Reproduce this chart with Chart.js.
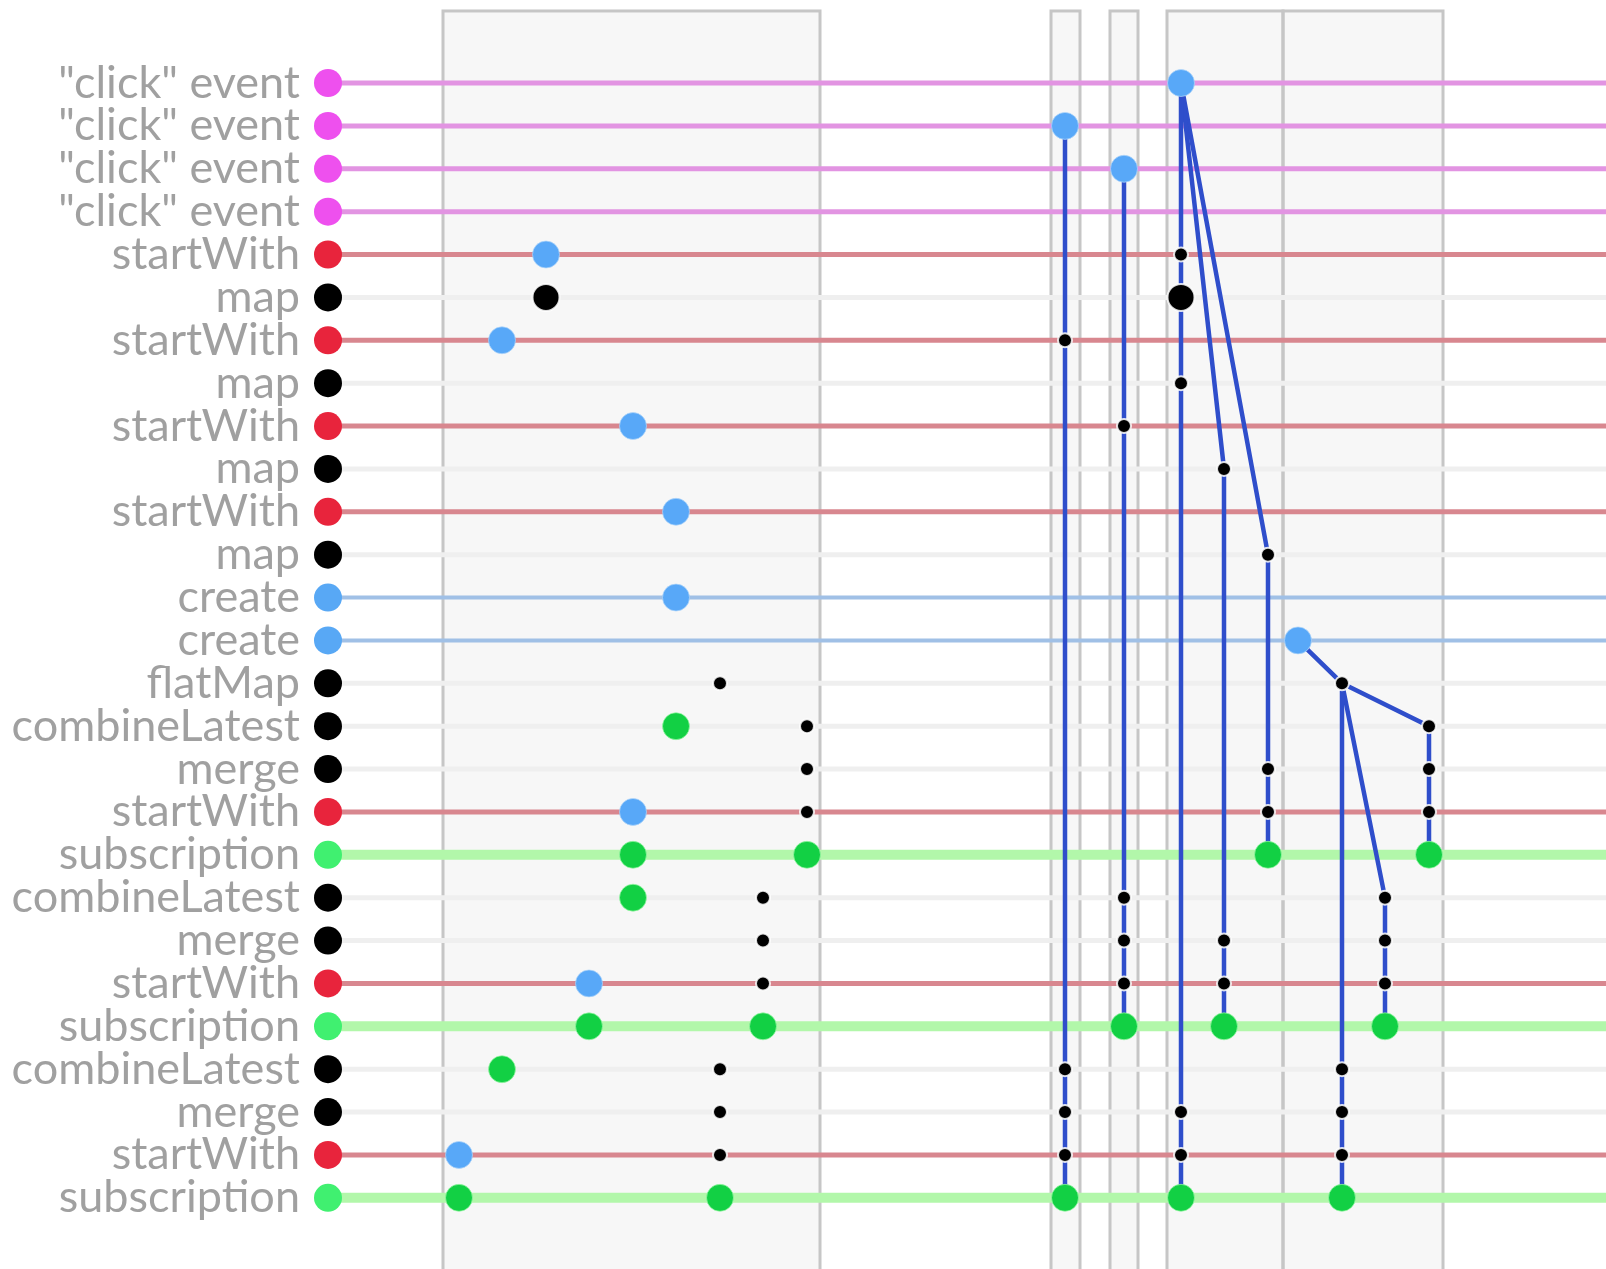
<!DOCTYPE html>
<html>
<head>
<meta charset="utf-8">
<script src="https://cdn.jsdelivr.net/npm/chart.js@4.4.1/dist/chart.umd.min.js"></script>
<style>
html,body{margin:0;padding:0;background:#ffffff;}
canvas{display:block;}
</style>
</head>
<body>
<canvas id="c" width="1606" height="1269"></canvas>
<script>
// ---- lanes ----
const rowLabels = ['"click" event','"click" event','"click" event','"click" event',
  'startWith','map','startWith','map','startWith','map','startWith','map',
  'create','create','flatMap','combineLatest','merge','startWith','subscription',
  'combineLatest','merge','startWith','subscription','combineLatest','merge','startWith','subscription'];
const rowKinds = ['click','click','click','click',
  'startWith','op','startWith','op','startWith','op','startWith','op',
  'create','create','op','op','op','startWith','subscription',
  'op','op','startWith','subscription','op','op','startWith','subscription'];
const laneStart = 328;
const laneEnd = 1606;

// ---- time windows ----
const windowStarts = [443, 1051, 1110, 1167, 1283];
const windowEnds   = [820, 1080, 1138, 1283, 1443];

// ---- events [time, row] ----
const blueEvents = [[546,4],[502,6],[633,8],[676,10],[676,12],[633,17],[589,21],[459,25],
  [1181,0],[1065,1],[1124,2],[1298,13]];
const greenEvents = [[676,15],[633,18],[807,18],[633,19],[589,22],[763,22],[502,23],[459,26],[720,26],
  [1268,18],[1429,18],[1124,22],[1224,22],[1385,22],[1065,26],[1181,26],[1342,26]];
const bigBlackEvents = [[546,5],[1181,5]];
const smallBlackEvents = [[720,14],[807,15],[807,16],[807,17],[763,19],[763,20],[763,21],[720,23],[720,24],[720,25],
  [1181,4],[1065,6],[1181,7],[1124,8],[1224,9],[1268,11],[1342,14],[1429,15],[1268,16],[1429,16],[1268,17],[1429,17],
  [1124,19],[1385,19],[1124,20],[1224,20],[1385,20],[1124,21],[1224,21],[1385,21],
  [1065,23],[1342,23],[1065,24],[1181,24],[1342,24],[1065,25],[1181,25],[1342,25]];

// ---- causal connectors (paths of [time,row]) ----
const connectors = [
  [[1065,1],[1065,26]],
  [[1124,2],[1124,22]],
  [[1181,0],[1181,26]],
  [[1181,0],[1224,9],[1224,22]],
  [[1181,0],[1268,11],[1268,18]],
  [[1298,13],[1342,14],[1342,26]],
  [[1342,14],[1429,15],[1429,18]],
  [[1342,14],[1385,19],[1385,22]]
];

// ---- styles ----
const kindStyle = {
  click:        {dot:'#ee50ee', line:'#e294e2', width:5},
  startWith:    {dot:'#e8243c', line:'#d8878f', width:5},
  op:           {dot:'#000000', line:'#efefef', width:5},
  create:       {dot:'#58a8f5', line:'#a0c0e6', width:4},
  subscription: {dot:'#40f070', line:'#b2f7aa', width:10}
};

const toPts = arr => arr.map(([x,y]) => ({x, y}));

const datasets = [];
datasets.push({type:'scatter', data: toPts(smallBlackEvents), pointRadius:7, pointHoverRadius:7,
  backgroundColor:'#000', borderColor:'rgba(255,255,255,0.85)', borderWidth:2, order:0, clip:false});
datasets.push({type:'scatter', data: toPts(bigBlackEvents), pointRadius:13.5, pointHoverRadius:13.5,
  backgroundColor:'#000', borderColor:'rgba(255,255,255,0.85)', borderWidth:2, order:0, clip:false});
datasets.push({type:'scatter', data: toPts(greenEvents), pointRadius:13.5, pointHoverRadius:13.5,
  backgroundColor:'#12d044', borderColor:'rgba(160,250,170,0.7)', borderWidth:1, order:0, clip:false});
datasets.push({type:'scatter', data: toPts(blueEvents), pointRadius:13.5, pointHoverRadius:13.5,
  backgroundColor:'#58a8f8', borderColor:'rgba(180,215,250,0.7)', borderWidth:1, order:0, clip:false});
datasets.push({type:'scatter', data: rowLabels.map((_, i) => ({x: laneStart, y: i})),
  pointRadius:14, pointHoverRadius:14, borderWidth:0,
  backgroundColor: rowKinds.map(k => kindStyle[k].dot), order:0, clip:false});
connectors.forEach(path => {
  datasets.push({type:'line', data: toPts(path), borderColor:'#2f4ecb', borderWidth:4.5,
    pointRadius:0, fill:false, tension:0, order:1, clip:false});
});
rowLabels.forEach((_, i) => {
  const st = kindStyle[rowKinds[i]];
  datasets.push({type:'line', data:[{x:laneStart, y:i},{x:laneEnd, y:i}], borderColor: st.line,
    borderWidth: st.width, pointRadius:0, fill:false, order:2, clip:false});
});

const windowsPlugin = {
  id:'windows',
  beforeDatasetsDraw(chart) {
    const {ctx, scales:{x, y}} = chart;
    const top = y.getPixelForValue(-1.68);
    const bottom = chart.height + 10;
    ctx.save();
    windowStarts.forEach((s, i) => {
      const l = x.getPixelForValue(s), r = x.getPixelForValue(windowEnds[i]);
      ctx.fillStyle = '#f7f7f7';
      ctx.fillRect(l, top, r - l, bottom - top);
    });
    ctx.strokeStyle = '#c6c6c6';
    ctx.lineWidth = 3;
    windowStarts.forEach((s, i) => {
      const l = x.getPixelForValue(s), r = x.getPixelForValue(windowEnds[i]);
      ctx.strokeRect(l, top, r - l, bottom - top);
    });
    ctx.restore();
  }
};

new Chart(document.getElementById('c'), {
  data: { datasets },
  options: {
    responsive:false, animation:false, devicePixelRatio:1,
    layout:{padding:0, autoPadding:false},
    plugins:{legend:{display:false}, tooltip:{enabled:false}},
    scales:{
      x:{type:'linear', min:laneStart, max:laneEnd, display:false},
      y:{type:'linear', reverse:true, min:-1.936, max:27.66,
        grid:{display:false, drawTicks:false}, border:{display:false},
        afterBuildTicks: s => { s.ticks = rowLabels.map((_, i) => ({value:i})); },
        afterFit: s => { s.width = laneStart; s.paddingTop = 0; s.paddingBottom = 0; },
        ticks:{ autoSkip:false, padding:28, color:'#a0a0a0',
          font:{family:'Lato', size:45},
          callback: v => rowLabels[v] }
      }
    }
  },
  plugins:[windowsPlugin]
});
</script>
</body>
</html>
